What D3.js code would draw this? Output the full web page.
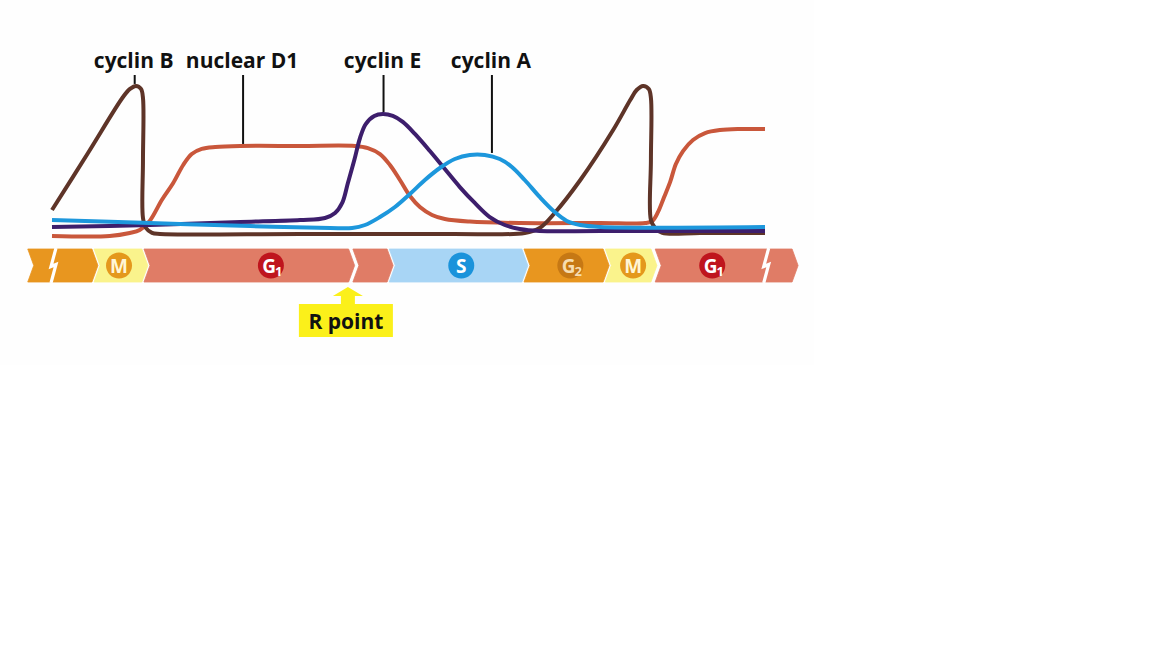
<!DOCTYPE html>
<html><head><meta charset="utf-8">
<script src="https://cdn.jsdelivr.net/npm/d3@7"></script>
<style>
html,body{margin:0;padding:0;background:#fff;}
svg{display:block;}
</style></head>
<body>
<svg id="chart" width="1152" height="648"></svg>
<script>
// ---- data (time in % of drawn window, level in relative units) ----
const cyclinB = [[0,18],[5.05,56],[9.96,93.3],[10.94,98.7],[11.78,100.7],[12.48,98.7],[12.76,92.7],[12.76,51.3],[12.76,12.7],[13.18,6],[14.03,2.7],[15.15,2],[34.8,2],[55.8,2],[66.3,2.7],[68.4,6],[70.5,16],[74.1,38],[78.7,71.3],[81.1,91.3],[82.0,98],[82.9,100.7],[83.7,98.7],[84.0,92.7],[84.0,51.3],[84.0,11.3],[84.6,6],[85.6,2.7],[90.9,2.7],[100,2.7]];
const nuclearD1 = [[0,0.7],[8.1,0.7],[10.9,2.7],[12.3,4.7],[13.7,10.7],[15.4,24.7],[17.0,36],[18.4,48],[19.6,55.3],[21.0,58.7],[22.9,60],[26.4,60.7],[34.8,60.7],[42.5,60.7],[44.3,59.3],[46.0,55.3],[47.4,48],[48.8,38],[50.2,27.3],[51.6,20],[53.3,14.7],[55.1,12],[58.6,10.3],[65.6,9.3],[76.9,9.3],[83.2,9.3],[84.2,10.7],[85.0,16.7],[85.8,26],[86.7,36.7],[87.5,48.7],[88.5,57.3],[89.9,64.7],[91.6,69.3],[93.7,71.3],[96.5,72],[100,72]];
const cyclinE = [[0,6.7],[13.7,8],[26.4,10],[34.8,11.3],[38.3,12.7],[39.7,16],[40.7,22.7],[41.5,36],[42.4,51.3],[43.2,66],[44.0,75.3],[45.2,80.7],[46.4,82],[47.8,80.7],[49.2,76.7],[50.9,68.7],[53.0,57.3],[55.1,45.3],[57.2,33.3],[59.3,22.7],[61.4,13.3],[63.5,8],[65.6,5.3],[68.4,4],[76.9,4],[100,4]];
const cyclinA = [[0,11.3],[13.7,9.3],[27.8,7.3],[39.0,6],[42.1,6],[43.9,8],[46.0,13.3],[48.1,20],[50.2,28.7],[52.3,38],[54.4,46],[56.5,52],[58.6,54.7],[60.7,54.7],[62.8,52],[64.5,46.7],[66.3,38],[68.4,26.7],[70.5,16.7],[72.2,10.7],[74.1,8],[76.9,6.7],[100,6.7]];

const seriesNames = ["nuclear D1","cyclin B","cyclin E","cyclin A"];
const seriesData = [nuclearD1, cyclinB, cyclinE, cyclinA];
const seriesColors = ["#c9573b","#5e3428","#3d1e6c","#1d97dc"];

// labels with leader lines
const labelNames = ["cyclin B","nuclear D1","cyclin E","cyclin A"];
const labelTimes = [11.6, 26.8, 46.5, 61.7];
const labelLevels = [100.7, 60.7, 82, 54.7];

// phase bar
const phaseStart = [-3.4, 5.9, 12.9, 42.2, 47.3, 66.2, 77.6, 84.6];
const phaseEnd   = [5.6, 12.6, 41.6, 47.0, 65.9, 77.3, 84.0, 103.8];
const phaseKind  = ["G2","M","G1","G1","S","G2","M","G1"];
const breakTimes = [0.14, 100.1];

const badgeLabels = ["M","G1","S","G2","M","G1"];
const badgeTimes  = [9.4, 30.7, 57.4, 72.7, 81.5, 92.6];
const rPointTime = 41.5;

// ---- styles ----
const phaseFill = {G1:"#e07c66", M:"#faf38c", S:"#a8d5f5", G2:"#e8961f"};
const badgeFill = {G1:"#bf151d", M:"#e4981c", S:"#1a93db", G2:"#c67814"};
const badgeText = {G1:"#ffffff", M:"#fff6d6", S:"#ffffff", G2:"#f7ddb0"};

const svg = d3.select("#chart");
svg.append("rect").attr("x",0).attr("y",0).attr("width",814).attr("height",365).attr("fill","#fefefe");

const x = d3.scaleLinear().domain([0,100]).range([52,765]);
const y = d3.scaleLinear().domain([0,100]).range([237,87]);

// curves
const line = d3.line().x(d=>x(d[0])).y(d=>y(d[1])).curve(d3.curveCatmullRom.alpha(0.5));
svg.append("g").selectAll("path").data(seriesData).join("path")
  .attr("d", line)
  .attr("fill","none")
  .attr("stroke",(d,i)=>seriesColors[i])
  .attr("stroke-width",4)
  .attr("stroke-linejoin","round");

// labels
const lab = svg.append("g");
labelNames.forEach((n,i)=>{
  lab.append("text").attr("x",x(labelTimes[i])-1).attr("y",68)
    .attr("text-anchor","middle")
    .attr("font-family","'Open Sans', sans-serif").attr("font-weight",700).attr("font-size",21)
    .attr("fill","#111").text(n);
  lab.append("line").attr("x1",x(labelTimes[i])).attr("x2",x(labelTimes[i]))
    .attr("y1",75).attr("y2",y(labelLevels[i])-2)
    .attr("stroke","#111").attr("stroke-width",2);
});

// phase bar
const barTop = 249, barBot = 282, barMid = (barTop+barBot)/2, tipD = 6;
const bar = svg.append("g");
phaseKind.forEach((k,i)=>{
  const x0 = x(phaseStart[i]), x1 = x(phaseEnd[i]);
  const p = `M${x0},${barTop}L${x1},${barTop}L${x1+tipD},${barMid}L${x1},${barBot}L${x0},${barBot}L${x0+tipD},${barMid}Z`;
  bar.append("path").attr("d",p).attr("fill",phaseFill[k]).attr("stroke",phaseFill[k]).attr("stroke-width",0.8).attr("stroke-linejoin","round");
});
breakTimes.forEach(t=>{
  const bx = x(t);
  bar.append("polyline")
    .attr("points",`${bx+3},${barTop-1} ${bx-2},${barMid+1} ${bx+3},${barMid-1} ${bx-2},${barBot+1}`)
    .attr("fill","none").attr("stroke","#fff").attr("stroke-width",3.2).attr("stroke-linejoin","miter");
});
badgeLabels.forEach((b,i)=>{
  const cx = x(badgeTimes[i]);
  bar.append("circle").attr("cx",cx).attr("cy",barMid).attr("r",13).attr("fill",badgeFill[b]);
  const t = bar.append("text").attr("x",cx).attr("y",barMid+7)
    .attr("text-anchor","middle")
    .attr("font-family","'Open Sans', sans-serif").attr("font-weight",700).attr("font-size",19)
    .attr("fill",badgeText[b]);
  if (b.length===1) { t.text(b); }
  else {
    t.attr("x",cx+1).attr("letter-spacing",-1);
    t.append("tspan").text(b[0]);
    t.append("tspan").attr("font-size",13).attr("dy",3).text(b[1]);
  }
});

// R point
const rx = x(rPointTime);
svg.append("path")
  .attr("d",`M${rx},287L${rx+15},296L${rx+7},296L${rx+7},305L${rx-7},305L${rx-7},296L${rx-15},296Z`)
  .attr("fill","#fbf01a");
svg.append("rect").attr("x",rx-49).attr("y",304).attr("width",94).attr("height",33).attr("fill","#fbf01a");
svg.append("text").attr("x",rx-2).attr("y",329).attr("text-anchor","middle")
  .attr("font-family","'Open Sans', sans-serif").attr("font-weight",700).attr("font-size",21)
  .attr("fill","#111").text("R point");
</script>
</body></html>
